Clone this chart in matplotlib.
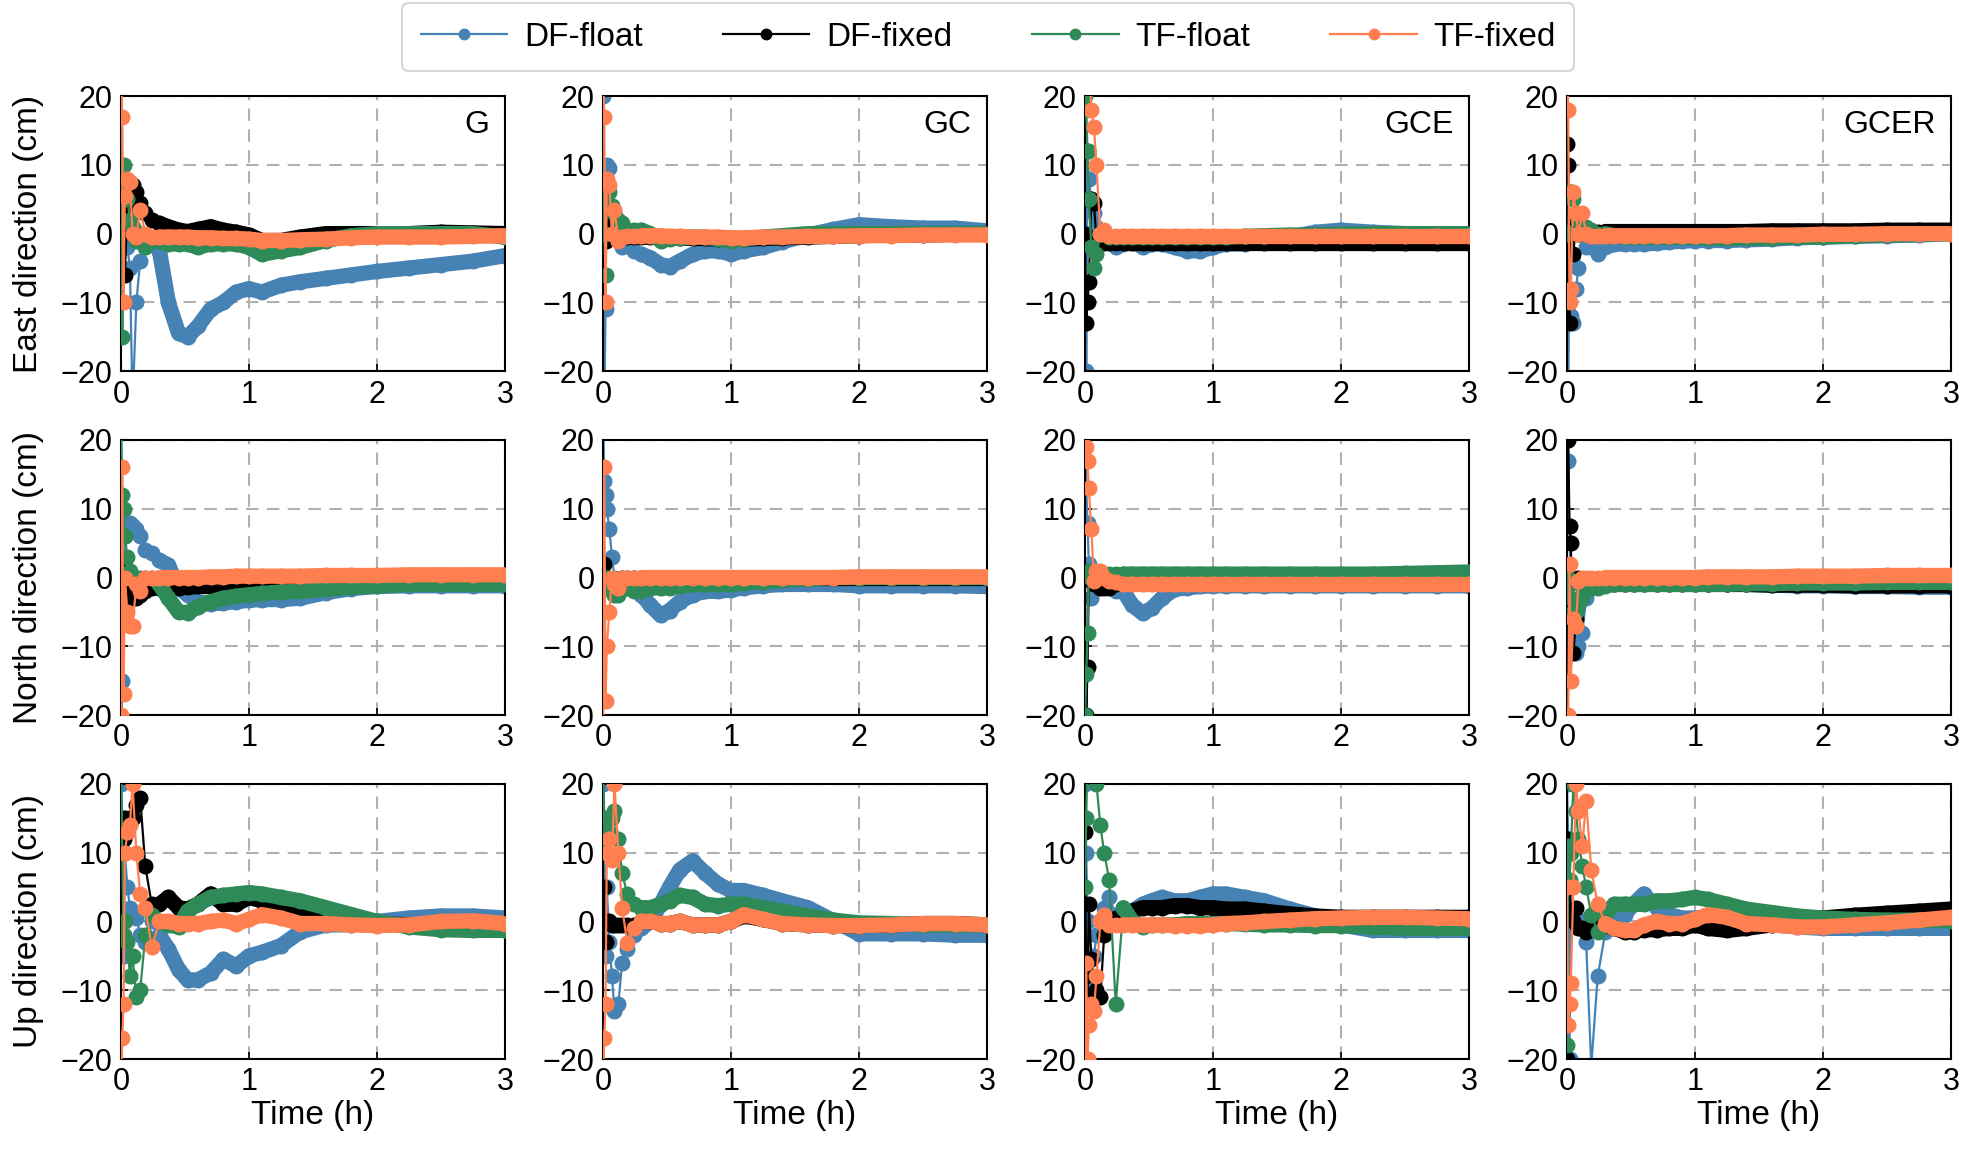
import matplotlib
matplotlib.use("Agg")
import matplotlib.pyplot as plt
from matplotlib.lines import Line2D
import numpy as np

plt.rcParams['font.family'] = ['Liberation Sans', 'DejaVu Sans']

time_h = [0.0, 0.01, 0.02, 0.03, 0.05, 0.07, 0.09, 0.12, 0.15, 0.19,
          0.24, 0.30, 0.37, 0.45, 0.52, 0.60, 0.70, 0.80, 0.90, 1.00,
          1.10, 1.25, 1.40, 1.60, 1.80, 2.00, 2.25, 2.50, 2.75, 3.00]

series_names = ['DF-float', 'DF-fixed', 'TF-float', 'TF-fixed']
series_colors = ['#4682B4', '#000000', '#2E8B57', '#FF7F50']
systems = ['G', 'GC', 'GCE', 'GCER']
directions = ['East', 'North', 'Up']

# each panel: [DF-float, DF-fixed, TF-float, TF-fixed], cm
east_G = [
    [-2, 3, 0, -1, -2, -5, -25, -10, -4, -2, -1.5, -2.5, -10, -14.5, -15, -13.5, -11, -10, -8.5, -8, -8.5, -7.5, -7, -6.5, -6, -5.5, -5, -4.5, -4, -3.2],
    [0, 2, 3, -6, 4, 6, 7, 6, 4.5, 3, 2, 1.5, 1, 0.5, 0.3, 0.6, 1, 0.5, 0.2, -0.2, -1, -1, -0.5, 0, 0, 0, 0, 0.2, 0.1, 0],
    [25, -15, 10, 8, 5, 2, 1, -1, 0, -2, -1, -1, -1.5, -1.5, -1.5, -2, -1.5, -1.5, -1.5, -2, -3, -2.5, -2, -1, -0.3, 0, 0, 0, 0, -0.5],
    [25, 17, -10, 5.5, 8, 7.5, 0, -0.5, 3.5, 0, -0.5, -0.5, -0.5, -0.5, -0.5, -0.6, -0.6, -0.7, -0.7, -0.8, -1, -1, -0.9, -0.8, -0.6, -0.5, -0.5, -0.5, -0.4, -0.3],
]
east_GC = [
    [20, -25, -11, 10, 9.5, 4, 3, 1, -2, -1.5, -2.5, -3, -3.5, -4.5, -4.8, -4, -3, -2.5, -2.5, -3, -2.5, -2, -1.2, -0.2, 0.6, 1.3, 1, 0.8, 0.8, 0.4],
    [0, 2, -1, 0.5, 0, -0.5, -0.5, -0.3, -0.3, -0.5, -0.5, -0.5, -0.5, -0.5, -0.6, -0.6, -0.7, -0.7, -0.8, -0.8, -0.8, -0.7, -0.6, -0.5, -0.4, -0.3, -0.2, -0.2, -0.1, 0],
    [25, 0, -6, 7, 6, 4, 3, 2, 1.5, 0.5, 0.5, 0.5, 0, -1, -0.8, -0.6, -0.5, -0.5, -0.8, -1, -0.8, -0.5, -0.3, 0, 0, 0, 0, 0, 0, 0],
    [25, 17, -10, 8, 7, 0, 3.5, -1, -0.5, -0.3, -0.3, -0.3, -0.3, -0.3, -0.4, -0.4, -0.5, -0.5, -0.5, -0.6, -0.6, -0.5, -0.5, -0.4, -0.4, -0.3, -0.3, -0.2, -0.2, -0.2],
]
east_GCE = [
    [25, -20, 12, 8, 5, 3, 1, -1, -1, -1, -2, -1.5, -1, -2, -1.5, -1.5, -2, -2.5, -2.5, -2, -1.5, -1.5, -1, -0.5, 0.2, 0.5, 0.2, 0, 0, 0],
    [0, -13, -10, -7, 5, 4.5, -1, -1.3, -1.3, -1.3, -1.3, -1.3, -1.3, -1.3, -1.3, -1.3, -1.3, -1.3, -1.3, -1.3, -1.3, -1.3, -1.3, -1.3, -1.3, -1.3, -1.3, -1.3, -1.3, -1.3],
    [20, 18, 12, 5, -2, -5, -3, 0, 0, -0.5, -0.5, -0.5, -0.5, -0.5, -0.5, -0.5, -0.5, -0.5, -0.5, -0.5, -0.5, -0.4, -0.3, -0.2, -0.2, -0.1, 0, 0, 0, 0],
    [25, 25, 25, 25, 18, 15.5, 10, 0, 0.5, -0.3, -0.3, -0.3, -0.3, -0.3, -0.3, -0.3, -0.3, -0.3, -0.3, -0.3, -0.3, -0.3, -0.3, -0.3, -0.3, -0.3, -0.3, -0.3, -0.3, -0.3],
]
east_GCER = [
    [-25, -25, 0, -12, -13, -8, -5, 0, -2, -2, -3, -2, -1.5, -1.5, -1.5, -1.5, -1.4, -1.2, -1.1, -1, -1, -1, -0.9, -0.8, -0.6, -0.5, -0.4, -0.3, -0.2, 0],
    [13, 10, -13, 0, -3, 2, 0, 0.3, 0.3, 0.3, 0.3, 0.3, 0.3, 0.3, 0.3, 0.3, 0.3, 0.3, 0.3, 0.3, 0.3, 0.3, 0.3, 0.4, 0.4, 0.4, 0.4, 0.5, 0.5, 0.5],
    [0, 0, 6, 6, 5, 3, 2, 1, 1, 0.5, 0, 0, -0.3, -0.5, -0.5, -0.5, -0.5, -0.5, -0.5, -0.5, -0.6, -0.7, -0.7, -0.6, -0.5, -0.5, -0.3, -0.2, -0.1, 0],
    [25, 18, -10, -8, 6, 3, 0, 3, 0, -0.3, -0.3, -0.3, -0.3, -0.3, -0.3, -0.3, -0.3, -0.3, -0.3, -0.3, -0.3, -0.3, -0.2, -0.2, -0.2, -0.1, -0.1, 0, 0, 0],
]
north_G = [
    [-25, -15, 0, 6, 8, 8, 7.5, 7, 6, 4, 3.5, 2.5, 1.8, -1.5, -2.5, -3.5, -3.8, -3.7, -3.5, -3.3, -3.2, -3.2, -3, -2.2, -1.6, -1.3, -1.2, -1.2, -1.2, -1.2],
    [0, -3, 2, -2, -1, -3, -3, -3, -2.5, -2, -1.5, -1.5, -1.5, -1.5, -1.4, -1.3, -1.3, -1.2, -1.2, -1, -0.8, -0.5, -0.3, 0, 0.1, 0.2, 0.2, 0.2, 0.2, 0.2],
    [25, 12, 10, 6, 3, 1, 0, 0, 0, 0, 0, -1, -3, -5, -5.1, -4.3, -3.5, -3, -2.7, -2.5, -2.3, -2.1, -2, -1.7, -1.4, -1.2, -1, -1, -1, -1],
    [-20, 16, -17, 0, -5, -7, -7, -1, -2, 0, 0, 0, 0, 0, 0, 0, 0.1, 0.1, 0.2, 0.2, 0.2, 0.2, 0.2, 0.3, 0.3, 0.3, 0.4, 0.4, 0.4, 0.4],
]
north_GC = [
    [25, 14, 12, 10, 7, 3, 0, -1, -1, -1, -1.5, -2.5, -4, -5.5, -4.8, -3.5, -2.5, -2, -2, -1.8, -1.5, -1.2, -1, -1, -1, -1.2, -1.2, -1.2, -1.2, -1.3],
    [0, 2, -1, 0, -0.5, -0.5, -0.5, -0.3, 0, 0, 0, 0, 0, 0, 0, 0, 0, 0, 0, 0, 0, 0, 0, 0, 0, 0, 0, 0, 0, 0],
    [0, 0, 0, 0, -1, -2, -2.5, -2.5, -1.5, -1.5, -2, -2, -1.5, -1.5, -1.5, -1.3, -1, -1, -1, -1, -0.8, -0.6, -0.4, -0.2, 0, 0, 0, 0, 0, 0],
    [-25, 16, -18, -10, -5, 0, -1, -1.5, 0, 0, 0, 0, 0, 0, 0, 0, 0, 0, 0, 0, 0, 0, 0, 0, 0, 0.1, 0.1, 0.1, 0.1, 0.1],
]
north_GCE = [
    [25, 13, 8, 2, -3, -1, -0.5, 0, -0.5, -1, -2, -2, -4, -5.2, -4.5, -3, -1.7, -1.5, -1.3, -1.2, -1.2, -1.2, -1.2, -1.2, -1.2, -1.2, -1.2, -1.2, -1.2, -1.2],
    [0, -20, -13, 0, -0.5, -1, -1, -1.5, -1.5, -1.5, -1, -0.5, -0.7, -0.8, -0.8, -0.8, -0.8, -0.8, -0.8, -0.8, -0.8, -0.8, -0.8, -0.8, -0.8, -0.8, -0.8, -0.8, -0.8, -0.8],
    [-20, -14, -8, 1, 0, 0.5, 0.5, 0.5, 0.5, 0.5, 0.5, 0.5, 0.5, 0.5, 0.5, 0.5, 0.5, 0.5, 0.5, 0.5, 0.5, 0.5, 0.5, 0.5, 0.5, 0.5, 0.5, 0.6, 0.7, 0.8],
    [25, 19, 17, 13, 7, -0.5, 1, 1, 0, -0.5, -0.7, -1, -1, -1, -1, -1, -1, -1, -1, -1, -1, -1, -1, -1, -1, -1, -1, -1, -1, -1],
]
north_GCER = [
    [25, 17, 5, 0, -8, -11, -10, -8, -3, -1.5, -1.2, -0.8, -0.8, -0.8, -0.8, -0.8, -0.8, -0.8, -0.8, -0.8, -0.9, -1, -1, -1.1, -1.2, -1.2, -1.3, -1.3, -1.4, -1.4],
    [20, 20, 7.5, 5, -11, -6, 0, -1, -1, -1, -1, -1, -1, -1, -1, -1, -1, -1, -1, -1, -1, -1, -1, -1.1, -1.1, -1.1, -1.2, -1.2, -1.2, -1.2],
    [0, 0, -1, -3, -5, -5, -4, -3, -1.5, -1.5, -1.5, -1.2, -1, -1, -1, -1, -1, -1, -1, -1, -1, -1, -0.9, -0.9, -0.8, -0.8, -0.8, -0.7, -0.7, -0.7],
    [-25, -20, 2, -15, -6, -7, -0.5, 0, 0, 0, 0, 0, 0, 0, 0, 0, 0, 0, 0, 0, 0.1, 0.1, 0.1, 0.1, 0.2, 0.2, 0.2, 0.3, 0.3, 0.3],
]
up_G = [
    [20, 15, -5, 10, 5, 2, 1, 0.5, -2, -3, 0, -2, -4, -7, -8.5, -8.5, -7.5, -5.5, -6.5, -5, -4.5, -3.5, -1.5, -0.5, -0.5, 0, 0.5, 0.8, 0.8, 0.5],
    [10, 14, 12, 15, 13, 15, 15, 17, 18, 8, 2.5, 2.5, 3.5, 2, 1.8, 2.5, 4, 2.5, 2.5, 3.5, 3, 2.3, 1.8, 1.1, 0.4, -0.3, -0.5, -0.8, -1, -1.2],
    [25, 10, -2, 0, -3, -8, -5, -11, -10, -2, 1, 0, -0.5, -0.8, 1.5, 2.5, 3.5, 3.8, 4, 4.2, 4, 3.5, 3, 2, 1, 0, -0.8, -1.2, -1.3, -1.3],
    [-25, -17, -12, 10, 13, 14, 20, 10, 4, 2, -3.7, 0, 0, -0.3, -0.3, -0.3, 0, 0.2, -0.3, 0.3, 1, 0.5, -0.3, -0.3, -0.5, -0.6, -0.5, 0, 0.1, -0.3],
]
up_GC = [
    [20, 15, -5, 5, -3, -8, -13, -12, -6, -4, -2, -1, 0, 2.5, 5, 7.5, 8.8, 7, 5.4, 4.5, 4.5, 3.8, 3, 2, 0.1, -1.8, -1.8, -1.8, -2, -2],
    [0, 5, -3, 0, 0, -0.5, -0.5, -0.5, -0.5, -0.5, -0.5, 0, 0, -0.3, -0.3, 0, -0.5, -0.5, -0.5, 0, 0.8, 0.3, -0.3, -0.5, -0.6, -0.6, -0.5, -0.3, -0.3, -0.5],
    [25, 15, 12, 10, 13, 15, 16, 12, 7, 4, 2.5, 2, 2, 2.5, 3, 3.8, 3.5, 2.5, 2.3, 2.5, 2.5, 2, 1.5, 0.8, 0.2, -0.2, -0.3, -0.5, -0.5, -0.5],
    [-25, -17, -12, 10, 12, 9, 20, 10, 2, -3.2, -1, 0, 0, -0.3, -0.3, 0, -0.5, -0.5, -0.5, 0, 1, 0.3, -0.3, -0.5, -0.6, -0.6, -0.5, -0.3, -0.3, -0.5],
]
up_GCE = [
    [20, 10, 0, -12, -10, -5, -2, 0, 2, 3.5, 1, 0.5, 1.5, 2.5, 3, 3.5, 3, 3, 3.5, 4, 4, 3.5, 3, 1.8, 0.8, -0.5, -1.3, -1.3, -1.3, -1.3],
    [13, -8, -12, 2.5, -5.5, -11, -10, -11, -2, 0, 0.5, 1, 1.5, 2, 2, 2, 2.3, 2.3, 2, 2, 1.8, 1.8, 1.5, 1.1, 0.8, 0.6, 0.6, 0.6, 0.6, 0.6],
    [5, 15, 25, 25, 25, 25, 20, 14, 10, 6, -12, 2, 0, -0.8, -0.5, -0.5, -0.5, -0.3, -0.3, -0.3, -0.3, -0.4, -0.5, -0.5, -0.6, -0.6, -0.8, -1, -1, -1],
    [-25, -6, -20, -15, -12, -13, -8, 0, 1, -0.5, -0.5, -0.5, -0.5, -0.5, -0.5, -0.5, -0.6, -0.6, -0.6, -0.5, -0.3, -0.2, 0, 0.2, 0.4, 0.5, 0.6, 0.6, 0.5, 0.4],
]
up_GCER = [
    [20, 12, -20, 5, 2, 0, 0, 0, -3, -21, -8, -1.5, 0, 1, 2.5, 4, 2, 1, 0.5, 0.5, 0.5, 0.2, 0, -0.5, -0.8, -1, -1, -1, -1, -1],
    [-20, 12, 5, 1.5, 0, 2, -1, -1, -1.5, -1, -0.5, -0.5, -1, -1.5, -1.5, -1.2, -1.2, -1, -1, -0.5, -1, -1.3, -1, -0.5, 0.2, 0.5, 0.9, 1.2, 1.5, 1.8],
    [-18, 11, 6, 10, 20, 16, 12, 8, 5, 1, -1.5, 1, 2.5, 2.5, 2.5, 2.5, 3, 3, 3.2, 3.5, 3.2, 2.5, 1.8, 1.3, 0.8, 0.5, 0.3, 0.2, 0.2, 0.1],
    [5, -15, -12, -9, 5, 20, 16, 11, 17.5, 7.5, 2.5, -0.3, -1, -1.3, -1.3, -0.5, 0, -0.3, -0.3, 0.3, 1, 0.6, -0.3, -0.5, -0.8, -0.8, -0.5, -0.2, 0.2, 0.6],
]

panels = [
    [east_G, east_GC, east_GCE, east_GCER],
    [north_G, north_GC, north_GCE, north_GCER],
    [up_G, up_GC, up_GCE, up_GCER],
]

t = np.array(time_h)
settled = t >= 0.28  # after convergence the epochs are so dense they form a band

fig, axes = plt.subplots(3, 4, figsize=(19.61, 11.49), dpi=100)
fig.subplots_adjust(left=0.0617, right=0.9949, top=0.9164, bottom=0.0783,
                    wspace=0.255, hspace=0.25)

for r in range(3):
    for c in range(4):
        ax = axes[r, c]
        for k in range(4):
            y = np.array(panels[r][c][k], dtype=float)
            ax.plot(t, y, color=series_colors[k], lw=1.6, marker='o', ms=10.5,
                    mec=series_colors[k], zorder=2 + k)
            ax.plot(t[settled], y[settled], color=series_colors[k], lw=11,
                    solid_capstyle='round', solid_joinstyle='round', zorder=2 + k)
        ax.set_xlim(0, 3)
        ax.set_ylim(-20, 20)
        ax.set_xticks([0, 1, 2, 3])
        ax.set_yticks([-20, -10, 0, 10, 20])
        ax.grid(True, color='#b0b0b0', lw=1.5, ls=(0, (6, 4)))
        ax.set_axisbelow(True)
        ax.tick_params(direction='in', length=5, width=1.2, labelsize=22, pad=6)
        for s in ax.spines.values():
            s.set_linewidth(1.5)
        if r == 0:
            ax.text(0.96, 0.95, systems[c], transform=ax.transAxes, ha='right',
                    va='top', fontsize=23)
        if c == 0:
            ax.set_ylabel(directions[r] + ' direction (cm)', fontsize=24, labelpad=12)
        if r == 2:
            ax.set_xlabel('Time (h)', fontsize=24, labelpad=2)

handles = [Line2D([0], [0], color=series_colors[k], lw=1.6, marker='o', ms=7.5)
           for k in range(4)]
leg = fig.legend(handles, series_names, loc='upper center', ncol=4,
                 bbox_to_anchor=(0.504, 1.0), fontsize=24, frameon=True,
                 handlelength=2.6, handletextpad=0.5, columnspacing=2.4,
                 borderpad=0.55, borderaxespad=0.1, fancybox=True)
leg.get_frame().set_edgecolor('#cccccc')
leg.get_frame().set_linewidth(1.5)

fig.savefig('out.png', dpi=100)
